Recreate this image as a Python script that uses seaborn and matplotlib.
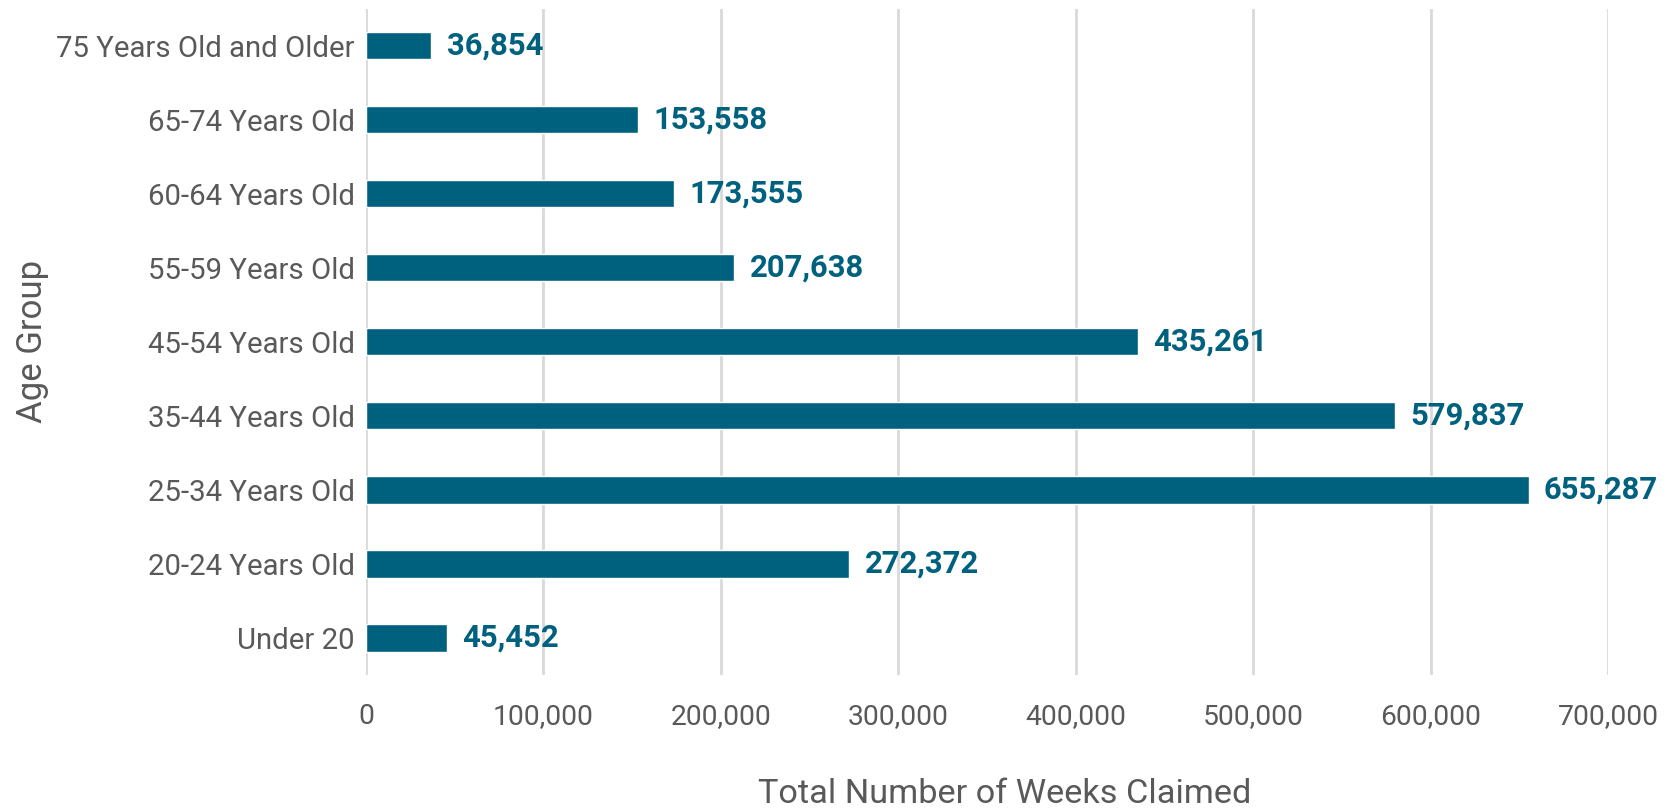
import matplotlib
matplotlib.use("Agg")
import matplotlib.pyplot as plt
import matplotlib.ticker as mticker
import seaborn as sns
import pandas as pd

age_groups = [
    "75 Years Old and Older",
    "65-74 Years Old",
    "60-64 Years Old",
    "55-59 Years Old",
    "45-54 Years Old",
    "35-44 Years Old",
    "25-34 Years Old",
    "20-24 Years Old",
    "Under 20",
]
weeks_claimed = [36854, 153558, 173555, 207638, 435261, 579837, 655287, 272372, 45452]
x_ticks = [0, 100000, 200000, 300000, 400000, 500000, 600000, 700000]

bar_color = "#00617F"
text_gray = "#595959"
grid_gray = "#D9D9D9"

sns.set_theme(style="white")
plt.rcParams["font.family"] = ["Roboto", "DejaVu Sans"]

df = pd.DataFrame({"Age Group": age_groups, "Weeks": weeks_claimed})

fig = plt.figure(figsize=(16.75, 8.10), dpi=100)
ax = fig.add_axes([0.2185, 0.1667, 0.960 - 0.2185, 0.9895 - 0.1667])

sns.barplot(data=df, y="Age Group", x="Weeks", order=age_groups,
            color=bar_color, saturation=1, width=0.37, orient="h", ax=ax)

ax.set_xlim(0, 700000)
ax.set_ylim(len(age_groups) - 0.5, -0.5)
ax.set_xticks(x_ticks)
ax.xaxis.set_major_formatter(mticker.FuncFormatter(lambda v, p: f"{int(v):,}"))
ax.grid(axis="x", color=grid_gray, linewidth=2)
ax.set_axisbelow(True)
for s in ax.spines.values():
    s.set_visible(False)

ax.tick_params(axis="x", length=0, pad=20, labelsize=20.3, labelcolor=text_gray)
ax.tick_params(axis="y", length=0, pad=8, labelsize=21.2, labelcolor=text_gray)

ax.set_xlabel("Total Number of Weeks Claimed", fontsize=24.7, color=text_gray,
              labelpad=35, x=0.514, ha="center")
ax.set_ylabel("Age Group", fontsize=25, color=text_gray, labelpad=5)

for container in ax.containers:
    ax.bar_label(container, labels=[f"{v:,}" for v in weeks_claimed],
                 padding=11, fontsize=22.3, fontweight="bold", color=bar_color)

fig.savefig("out.png", dpi=100, facecolor="white")
